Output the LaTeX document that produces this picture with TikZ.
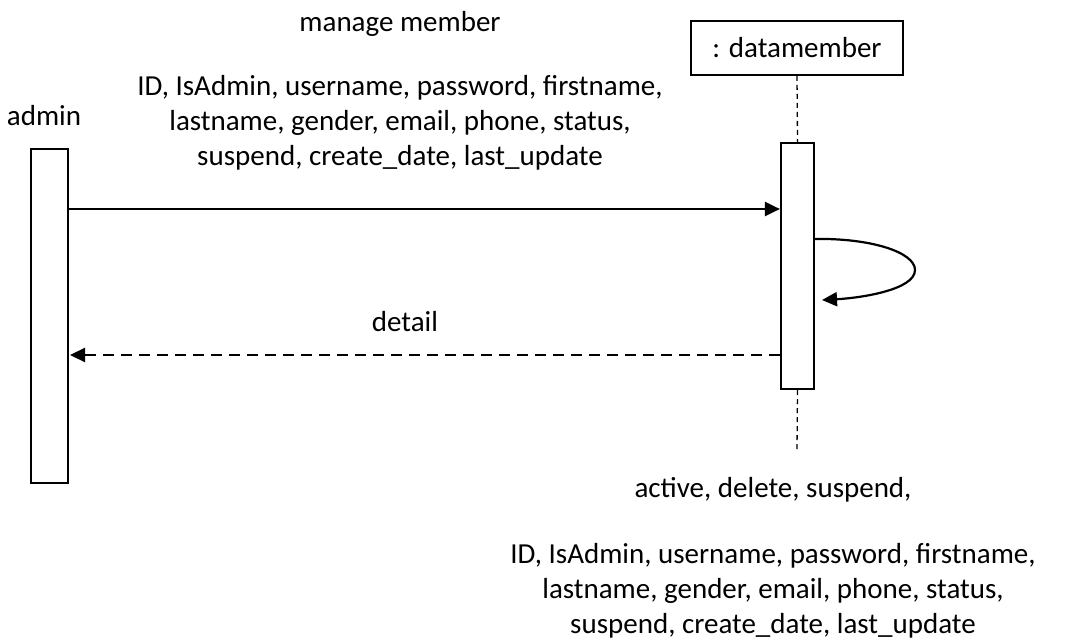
\documentclass[tikz,border=0pt]{standalone}
\usepackage{fontspec}
\setmainfont{Carlito}
\usetikzlibrary{arrows.meta}
\begin{document}
\begin{tikzpicture}[x=1pt,y=-1pt,
  lbl/.style={font=\fontsize{29}{35}\selectfont, inner sep=0pt, align=center},
  actbox/.style={draw, line width=2.2pt, fill=white},
  msg/.style={line width=2.2pt, -{Triangle[length=15pt,width=14pt]}},
  ret/.style={line width=2.2pt, dash pattern=on 11pt off 7pt, -{Triangle[length=15pt,width=14pt]}},
  life/.style={line width=1.3pt, dash pattern=on 5pt off 4pt}]
\useasboundingbox (0,0) rectangle (1069,643);
% header
\node[draw, line width=1.8pt, minimum width=212pt, minimum height=54pt, inner sep=0pt, font=\fontsize{29}{35}\selectfont] (dm) at (797,48) {: datamember};
\node[lbl] (admin) at (44,116) {admin};
% activations
\node[actbox, minimum width=37pt, minimum height=334pt, inner sep=0pt] (a1) at (49.5,316) {};
\node[actbox, minimum width=33pt, minimum height=246pt, inner sep=0pt] (a2) at (797.5,266) {};
\coordinate (l1) at (797,450);
\draw[life] (dm.south) -- (a2.north);
\draw[life] (a2.south) -- (l1);
% messages
\coordinate (m1s) at (a1.east |- 0,209);
\coordinate (m1e) at (a2.west |- 0,209);
\draw[msg] (m1s) -- (m1e);
\coordinate (s1) at (a2.east |- 0,239);
\coordinate (s2) at (822,300);
\draw[msg] (s1) .. controls (870,238) and (915,252) .. (915,270) .. controls (915,290) and (860,298) .. (s2);
\coordinate (r1s) at (a2.west |- 0,355);
\coordinate (r1e) at (70,355);
\draw[ret] (r1s) -- (r1e);
% labels
\node[lbl] (t1) at (400,24) {manage member};
\node[lbl] (t2) at (400,123) {ID, IsAdmin, username, password, firstname,\\lastname, gender, email, phone, status,\\suspend, create\_date, last\_update};
\node[lbl] (t3) at (405,322) {detail};
\node[lbl] (t4) at (773,490) {active, delete, suspend,};
\node[lbl] (t5) at (773,591) {ID, IsAdmin, username, password, firstname,\\lastname, gender, email, phone, status,\\suspend, create\_date, last\_update};
\end{tikzpicture}
\end{document}
